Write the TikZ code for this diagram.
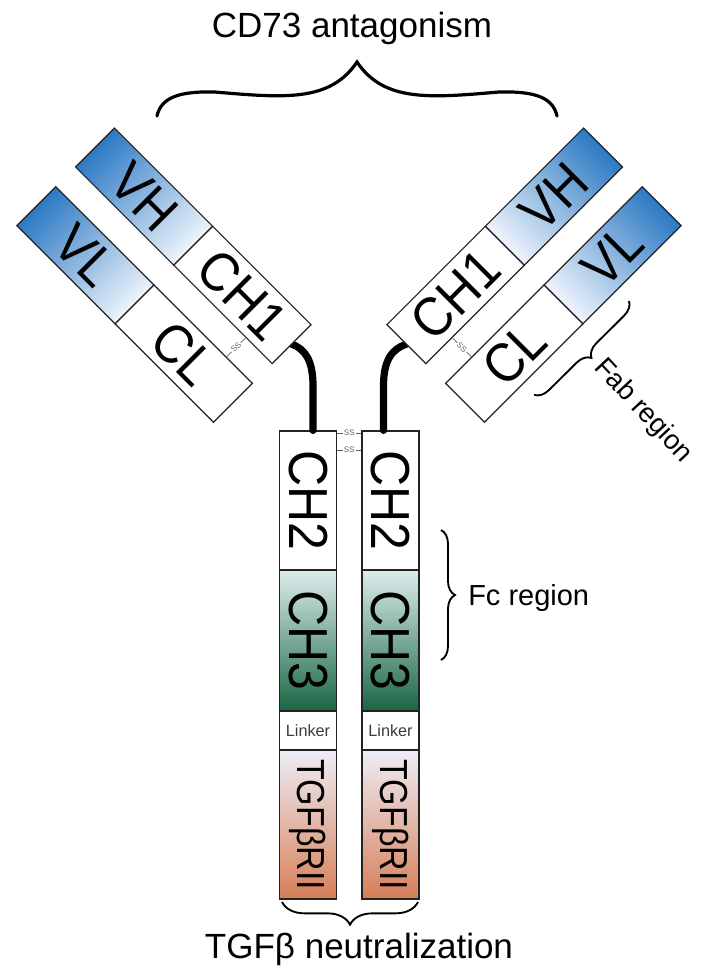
\documentclass[tikz,border=0pt]{standalone}
\usepackage{graphicx}
\usepackage{fontspec}
\setmainfont{Liberation Sans}
\usetikzlibrary{decorations.pathreplacing,calc}
\definecolor{vblue}{RGB}{44,121,196}
\definecolor{vpale}{RGB}{238,244,251}
\definecolor{chtop}{RGB}{220,237,237}
\definecolor{chbot}{RGB}{26,102,68}
\definecolor{tgtop}{RGB}{238,238,246}
\definecolor{tgmid}{RGB}{222,204,210}
\definecolor{tgbot}{RGB}{214,126,88}
\definecolor{edgec}{RGB}{35,35,35}
\definecolor{ssgray}{RGB}{100,100,100}
\definecolor{linkc}{RGB}{60,60,60}
\newcommand\domfont{\fontsize{37.5pt}{40pt}\selectfont}
\newcommand\tgffont{\fontsize{25.5pt}{28pt}\selectfont}
\newcommand\labfont{\fontsize{26.25pt}{30pt}\selectfont}
\newcommand\regfont{\fontsize{21.75pt}{25pt}\selectfont}
\newcommand\fabfont{\fontsize{20.5pt}{24pt}\selectfont}
\newcommand\linkfont{\fontsize{12.2pt}{14pt}\selectfont}
\newcommand\ssfont{\fontsize{6pt}{7pt}\selectfont}
\begin{document}
\begin{tikzpicture}[x=0.75pt,y=-0.75pt,
  dom/.style={draw=edgec,line width=0.9pt},
  stembox/.style={dom,minimum width=42.75pt,inner sep=0pt,anchor=center},
  armtxt/.style={inner sep=0pt,font=\domfont},
  sslab/.style={inner sep=0.6pt,font=\ssfont,text=ssgray},
  ssline/.style={draw=ssgray,line width=0.5pt},
  hinge/.style={line width=5.4pt,line cap=round},
  bracefine/.style={line width=1.4pt,decorate},
  bigbrace/.style={line width=2.4pt,line cap=round},
  lab/.style={font=\labfont,inner sep=0pt},
  reg/.style={font=\regfont,inner sep=0pt}]
\useasboundingbox (0,0) rectangle (701,972);
\fill[white] (0,0) rectangle (701,972);

% ---- stems
\node[stembox,fill=white,minimum height=104.25pt] (ch2L) at (308,500.5)
  {\rotatebox{-90}{\domfont\scalebox{1}[1.1]{CH2}}};
\node[stembox,top color=chtop,bottom color=chbot,minimum height=105.75pt] (ch3L) at (308,640.5)
  {\rotatebox{-90}{\domfont\scalebox{1}[1.1]{CH3}}};
\node[stembox,fill=white,minimum height=29.25pt,font=\linkfont,text=linkc] (lnkL) at (308,730.5) {Linker};
\node[stembox,top color=tgtop,middle color=tgmid,bottom color=tgbot,minimum height=111.75pt] (tgfL) at (308,824.5)
  {\rotatebox{-90}{\tgffont\scalebox{1}[1.15]{TGFβRII}}};

\node[stembox,fill=white,minimum height=104.25pt] (ch2R) at (390.5,500.5)
  {\rotatebox{-90}{\domfont\scalebox{1}[1.1]{CH2}}};
\node[stembox,top color=chtop,bottom color=chbot,minimum height=105.75pt] (ch3R) at (390.5,640.5)
  {\rotatebox{-90}{\domfont\scalebox{1}[1.1]{CH3}}};
\node[stembox,fill=white,minimum height=29.25pt,font=\linkfont,text=linkc] (lnkR) at (390.5,730.5) {Linker};
\node[stembox,top color=tgtop,middle color=tgmid,bottom color=tgbot,minimum height=111.75pt] (tgfR) at (390.5,824.5)
  {\rotatebox{-90}{\tgffont\scalebox{1}[1.15]{TGFβRII}}};

% ---- disulfide bonds between stems
\node[sslab] (ssa) at (349.25,433) {SS};
\node[sslab] (ssb) at (349.25,450) {SS};
\draw[ssline] (ch2L.east |- ssa) -- (ssa.west) (ssa.east) -- (ch2R.west |- ssa);
\draw[ssline] (ch2L.east |- ssb) -- (ssb.west) (ssb.east) -- (ch2R.west |- ssb);

% ---- hinges
\coordinate (hL) at (291.6,344.1);
\coordinate (hR) at (406.4,344.1);
\draw[hinge] (hL) .. controls (305,349) and (313,360) .. (313,386) -- ($(ch2L.north)+(5,0)$);
\draw[hinge] (hR) .. controls (392,349) and (383.5,360) .. (383.5,386) -- ($(ch2R.north)+(-7,0)$);

% ---- left arm
\begin{scope}[transform canvas={shift={(95,147.5)},rotate=-45}]
 \shade[left color=vblue,right color=vpale] (0,-27.5) rectangle (139,27.5);
 \draw[dom] (0,-27.5) rectangle (139,27.5);
 \draw[dom,fill=white] (139,-27.5) rectangle (278,27.5);
 \shade[left color=vblue,right color=vpale] (0,55.5) rectangle (139,110.5);
 \draw[dom] (0,55.5) rectangle (139,110.5);
 \draw[dom,fill=white] (139,55.5) rectangle (278,110.5);
 \node[armtxt] (vhL) at (69.5,0) {\scalebox{1}[1.1]{VH}};
 \node[armtxt] (ch1L) at (208.5,0) {\scalebox{1}[1.1]{CH1}};
 \node[armtxt] (vlL) at (69.5,83) {\scalebox{1}[1.1]{VL}};
 \node[armtxt] (clL) at (208.5,83) {\scalebox{1}[1.1]{CL}};
 \node[sslab,rotate=90] (ssL) at (241,41.5) {SS};
 \draw[ssline] (241,27.5) -- (ssL.east) (ssL.west) -- (241,55.5);
\end{scope}

% ---- right arm
\begin{scope}[transform canvas={shift={(603,147.5)},rotate=-135}]
 \shade[left color=vblue,right color=vpale] (0,-27.5) rectangle (139,27.5);
 \draw[dom] (0,-27.5) rectangle (139,27.5);
 \draw[dom,fill=white] (139,-27.5) rectangle (278,27.5);
 \shade[left color=vblue,right color=vpale] (0,-110.5) rectangle (139,-55.5);
 \draw[dom] (0,-110.5) rectangle (139,-55.5);
 \draw[dom,fill=white] (139,-110.5) rectangle (278,-55.5);
 \node[armtxt,rotate=180] (vhR) at (69.5,0) {\scalebox{1}[1.1]{VH}};
 \node[armtxt,rotate=180] (ch1R) at (208.5,0) {\scalebox{1}[1.1]{CH1}};
 \node[armtxt,rotate=180] (vlR) at (69.5,-83) {\scalebox{1}[1.1]{VL}};
 \node[armtxt,rotate=180] (clR) at (208.5,-83) {\scalebox{1}[1.1]{CL}};
 \node[sslab,rotate=90] (ssR) at (241,-41.5) {SS};
 \draw[ssline] (241,-27.5) -- (ssR.west) (ssR.east) -- (241,-55.5);
\end{scope}

% ---- braces
\draw[bigbrace] (157,116) .. controls (161,98) and (178,91) .. (215,92)
  .. controls (285,98) and (330,102) .. (357,62)
  .. controls (384,102) and (429,98) .. (499,92)
  .. controls (536,91) and (553,98) .. (557,116);
\draw[bracefine,decoration={brace,amplitude=10.5pt}] (629,301) -- (534,395);
\draw[bracefine,decoration={brace,amplitude=10.5pt}] (441,530) -- (441,660);
\draw[bracefine,decoration={brace,amplitude=17pt,mirror}] (282,902) -- (418,902);

% ---- labels
\node[lab,anchor=base] (title) at (352,37) {CD73 antagonism};
\node[lab,anchor=base] (tgflab) at (359,958) {TGFβ neutralization};
\node[reg,anchor=base west] (fclab) at (468,605) {Fc region};
\node[font=\fabfont,inner sep=0pt,rotate=-47] (fablab) at (643,411) {Fab region};
\end{tikzpicture}
\end{document}
